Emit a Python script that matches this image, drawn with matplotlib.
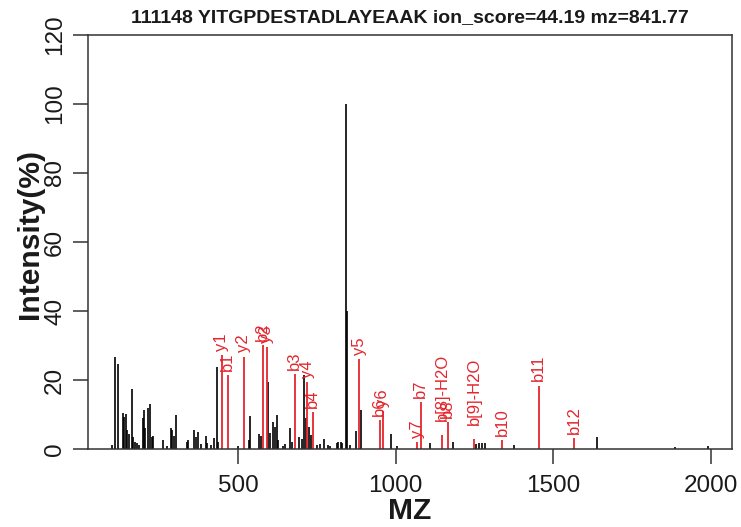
import matplotlib
matplotlib.use("Agg")
import matplotlib.pyplot as plt

# ----------------------------
# Spectrum data
# ----------------------------
title = "111148 YITGPDESTADLAYEAAK ion_score=44.19 mz=841.77"

# unmatched peaks (black)
peak_mz = [99, 109.5, 118, 134, 139, 144.4, 148.5, 154.9, 162.5, 165.7,
           173, 180.3, 186.6, 197.4, 201.5, 205.6, 215.2, 219.6, 226, 231,
           260.9, 273.6, 286.3, 291.3, 296.7, 303.1, 337, 340.2, 361.2, 366.5,
           372, 382.4, 398.3, 402.4, 414.1, 424.6, 432.2, 437.3, 498.9, 535.7,
           537.9, 567.4, 573.8, 596, 602.3, 611.9, 617.3, 622.7, 627.7, 641.7,
           649, 664.9, 670.3, 693.4, 703, 709.3, 715.6, 726.1, 730.6, 751.5,
           760, 772.8, 784.5, 791.8, 814, 818.2, 825.8, 830, 841.6, 844.5,
           855.3, 874.3, 889.2, 985.4, 1003.5, 1109.2, 1183.1, 1254.2, 1264.7,
           1274.2, 1283.7, 1376.7, 1638.2, 1886.7, 1992.4]
peak_int = [1.2, 26.6, 24.6, 10.3, 9.4, 10.1, 5.5, 4.3, 17.3, 3.5,
            2.1, 1.8, 1.2, 8.9, 11.3, 6.0, 11.8, 13.0, 3.6, 3.7,
            2.6, 0.9, 6.0, 5.5, 3.7, 9.9, 2.1, 2.5, 5.5, 3.6,
            4.8, 1.5, 3.9, 1.8, 1.2, 3.3, 23.9, 2.0, 1.0, 2.5,
            9.7, 4.3, 3.8, 19.5, 4.6, 7.9, 6.3, 9.9, 2.5, 1.0,
            1.5, 6.0, 2.0, 3.6, 3.0, 21.4, 9.0, 6.3, 4.0, 1.2,
            1.5, 3.0, 1.2, 1.0, 1.8, 2.0, 2.0, 1.6, 100.0, 40.0,
            1.2, 5.2, 11.3, 4.3, 1.0, 1.7, 2.0, 1.5, 1.6,
            1.8, 1.8, 1.3, 3.6, 0.7, 0.8]

# matched fragment ions (red)
ion_mz = [449.1, 467.2, 518.9, 578.2, 590.9, 680.7, 719.8, 736.9, 884.8,
          950.5, 959.0, 1069.0, 1079.7, 1148.0, 1165.0, 1249.0, 1338.6,
          1455.0, 1567.0]
ion_int = [27.2, 21.4, 26.8, 30.1, 29.5, 21.6, 19.5, 10.8, 26.0,
           8.4, 11.0, 2.1, 13.7, 4.1, 7.9, 2.9, 2.6,
           18.4, 3.1]
ion_labels = ["y1", "b1", "y2", "b2", "y3", "b3", "y4", "b4", "y5",
              "b6", "y6", "y7", "b7", "b[8]-H2O", "b8", "b[9]-H2O", "b10",
              "b11", "b12"]

# ----------------------------
# Figure
# ----------------------------
plt.rcParams['font.family'] = ['Liberation Sans', 'DejaVu Sans']
W, H = 741, 527
fig = plt.figure(figsize=(W / 100, H / 100), dpi=100)
left, right, top, bottom = 88, 731.7, 35, 449
ax = fig.add_axes([left / W, 1 - bottom / H, (right - left) / W, (bottom - top) / H])

red = '#e3262d'
ax.vlines(peak_mz, 0, peak_int, color='black', lw=1.2)
ax.vlines(ion_mz, 0, ion_int, color=red, lw=1.3)
for x, y, lab in zip(ion_mz, ion_int, ion_labels):
    pad = 10 if 'H2O' in lab else 3
    ax.annotate(lab, (x, y), xytext=(0, pad), textcoords='offset points',
                rotation=90, ha='center', va='bottom', color=red, fontsize=12)

ax.set_xlim(24, 2067)
ax.set_ylim(0, 120)
ax.set_xticks([500, 1000, 1500, 2000])
ax.set_yticks([0, 20, 40, 60, 80, 100, 120])

for s in ax.spines.values():
    s.set_linewidth(1.1)
    s.set_color('#333333')
ax.tick_params(axis='both', length=10.8, width=1.1, color='#333333',
               labelsize=17.5, labelcolor='#1a1a1a')
ax.tick_params(axis='x', pad=8)
ax.tick_params(axis='y', pad=5)
for lab in ax.get_yticklabels():
    lab.set_rotation(90)
    lab.set_va('center')

fig.text(410 / W, 1 - 18 / H, title, ha='center', va='center',
         fontsize=14, fontweight='bold', color='#1a1a1a')
fig.text(410 / W, 1 - 511 / H, "MZ", ha='center', va='center',
         fontsize=21.6, fontweight='bold', color='#1a1a1a')
fig.text(30 / W, 1 - 234 / H, "Intensity(%)", ha='center', va='center',
         rotation=90, fontsize=21.6, fontweight='bold', color='#1a1a1a')

fig.savefig("out.png", dpi=100)
